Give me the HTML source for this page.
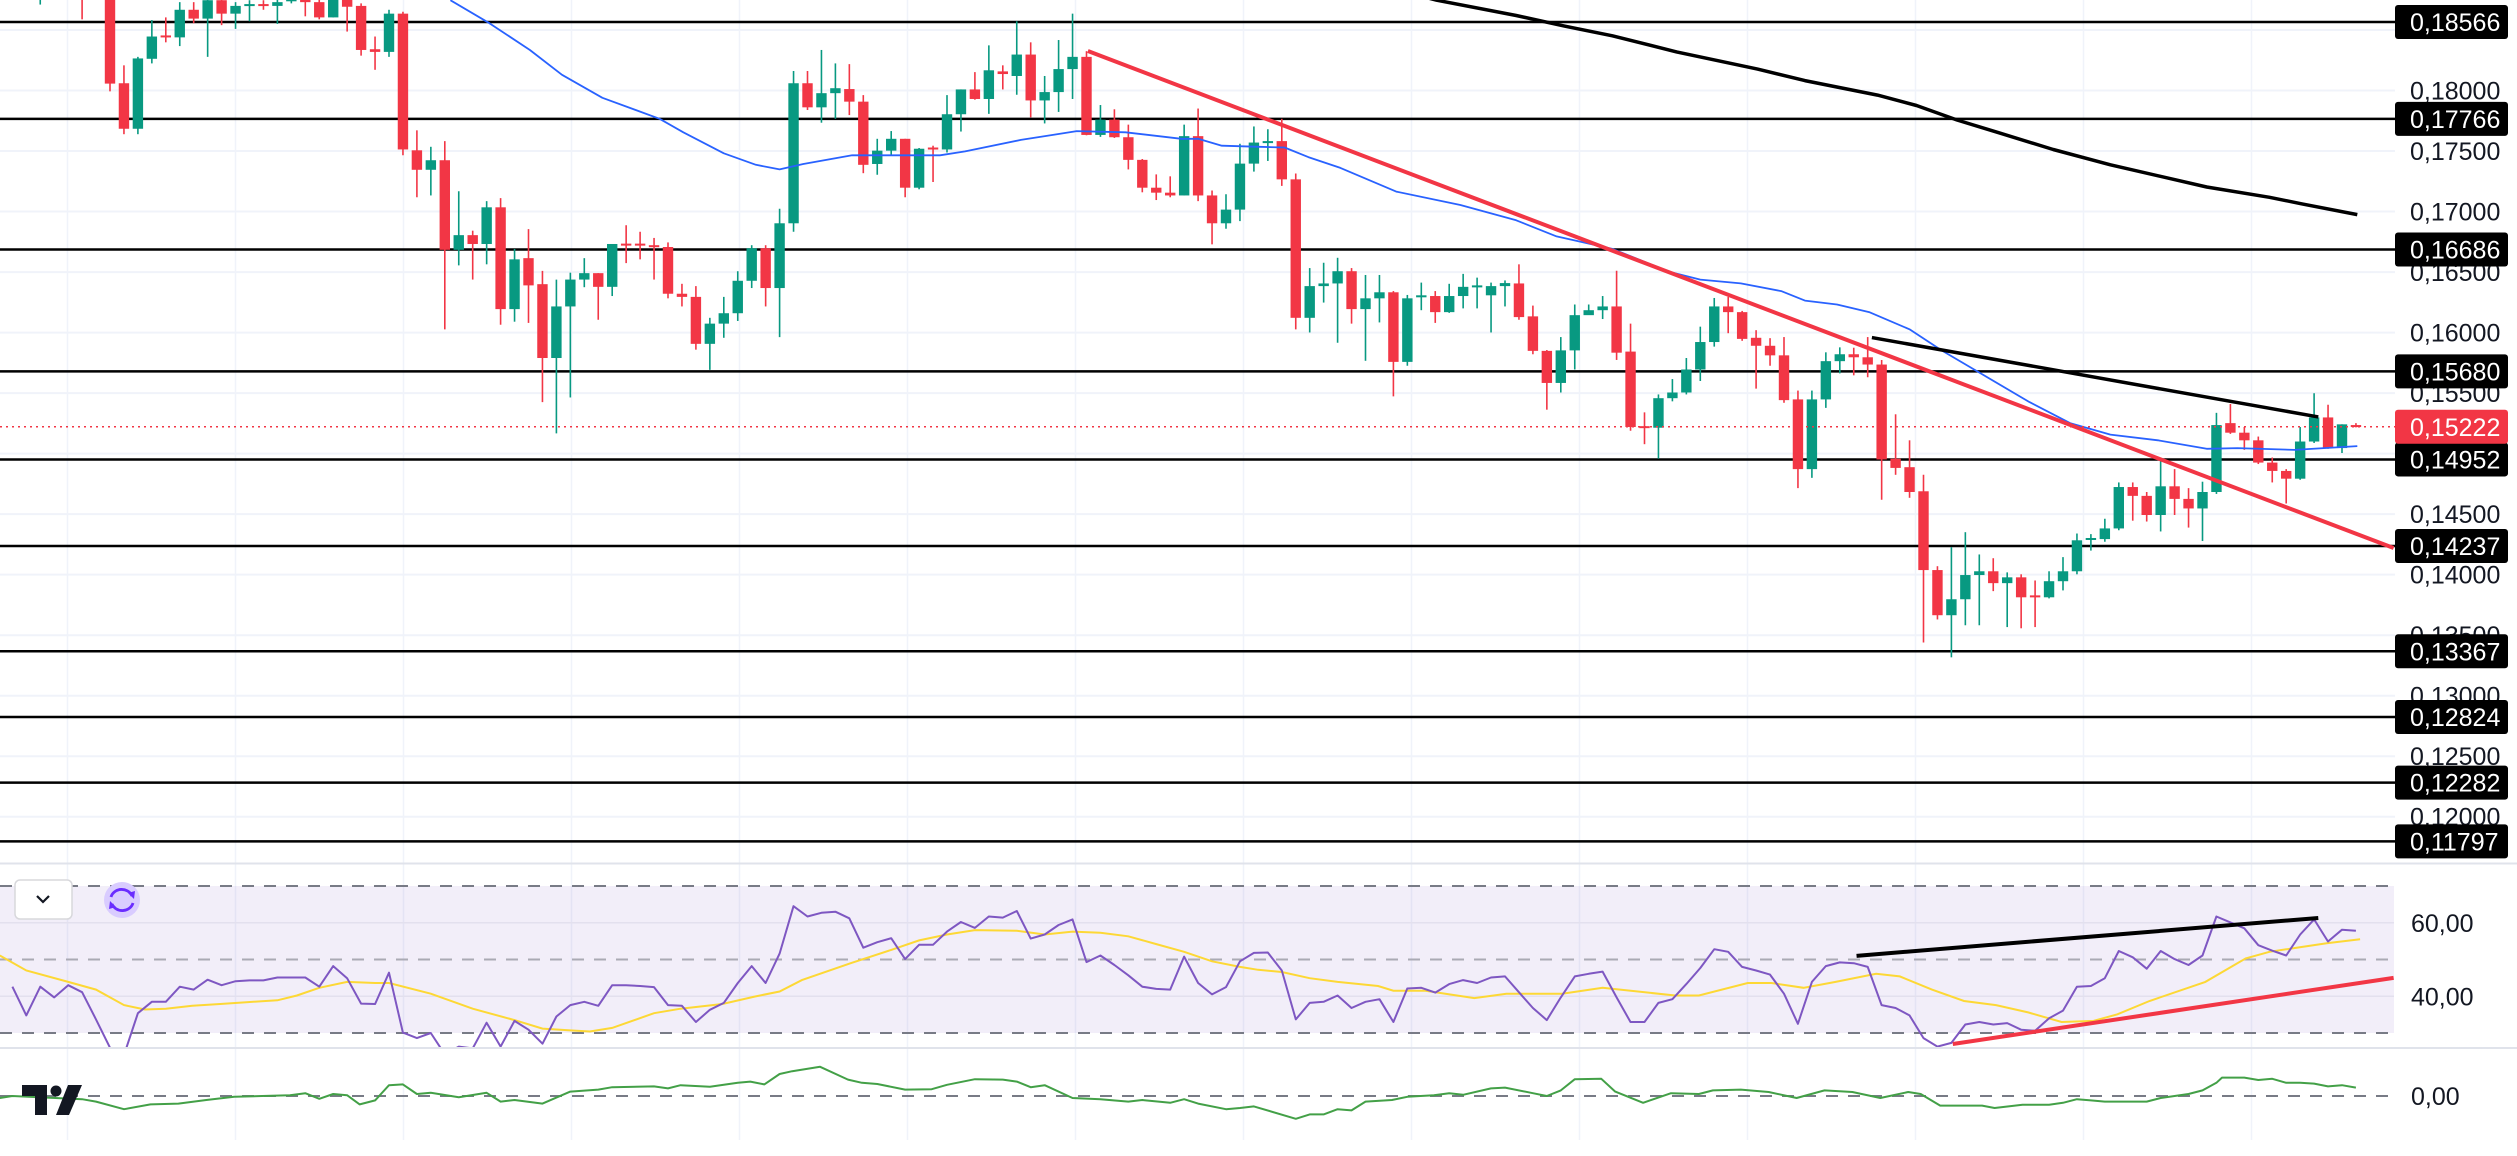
<!DOCTYPE html>
<html><head><meta charset="utf-8"><style>
html,body{margin:0;padding:0;background:#fff;}
svg{display:block;font-family:"Liberation Sans",sans-serif;}
</style></head><body>
<svg id="chart" width="2517" height="1156" viewBox="0 0 2517 1156" xmlns="http://www.w3.org/2000/svg"></svg>
<script>
// ---- data ----
const startIdx = -5;
const candleOpen = [0.1880,0.1895,0.1890,0.1900,0.1888,0.1885,0.18060,0.17684,0.18262,0.18455,0.18439,0.18667,0.18594,0.18746,0.18635,0.18708,0.18714,0.18699,0.18737,0.1876,0.1873,0.18604,0.1876,0.18699,0.18341,0.18319,0.18635,0.17506,0.17345,0.17424,0.16684,0.16805,0.16732,0.17035,0.16194,0.16615,0.16400,0.15790,0.16216,0.16438,0.16491,0.16378,0.16735,0.16735,0.16722,0.16707,0.16321,0.16295,0.15907,0.16074,0.1616,0.16428,0.16697,0.16368,0.16903,0.1806,0.17861,0.17978,0.18012,0.17908,0.17393,0.17503,0.17601,0.17197,0.17529,0.17513,0.17804,0.18009,0.1793,0.18158,0.1812,0.18297,0.17918,0.17987,0.18177,0.18278,0.17633,0.17759,0.17614,0.17427,0.17197,0.17156,0.17133,0.17623,0.17133,0.16903,0.17016,0.17396,0.1757,0.17582,0.17266,0.16122,0.16384,0.16406,0.16507,0.16194,0.16283,0.16333,0.15758,0.16302,0.16302,0.16169,0.16302,0.16378,0.16308,0.16384,0.16406,0.16134,0.15849,0.15584,0.15853,0.16144,0.16185,0.16216,0.15843,0.15227,0.15214,0.15458,0.15505,0.15695,0.15922,0.16216,0.16169,0.15957,0.15891,0.15812,0.15448,0.14872,0.15448,0.15764,0.15821,0.15796,0.15736,0.14958,0.14888,0.14689,0.14038,0.13665,0.13797,0.13997,0.14028,0.1393,0.13978,0.13829,0.13813,0.13946,0.14028,0.14288,0.14294,0.14382,0.14724,0.14651,0.14493,0.1473,0.14626,0.14547,0.14683,0.15252,0.15173,0.1511,0.14926,0.14857,0.14793,0.151,0.15299,0.15046,0.15236];
const candleHigh = [0.1890,0.1900,0.1902,0.1905,0.1900,0.1890,0.18208,0.18278,0.18582,0.18604,0.18730,0.18730,0.1880,0.1880,0.1873,0.18746,0.18746,0.1876,0.1880,0.1880,0.1876,0.1880,0.1880,0.1872,0.18446,0.18667,0.18651,0.17671,0.17535,0.17582,0.17168,0.16842,0.17086,0.17111,0.16691,0.16855,0.16510,0.16438,0.16495,0.16615,0.16491,0.16732,0.16887,0.16833,0.16782,0.16745,0.16403,0.16384,0.16122,0.16295,0.16507,0.16722,0.16722,0.17023,0.18161,0.18161,0.18335,0.18224,0.18218,0.17962,0.17601,0.17665,0.17601,0.17525,0.17544,0.17962,0.18009,0.18152,0.18373,0.18208,0.18572,0.18398,0.1812,0.18417,0.18635,0.18325,0.17880,0.17845,0.17718,0.17434,0.17307,0.17291,0.17718,0.17851,0.17174,0.17143,0.17560,0.17703,0.17680,0.17766,0.17314,0.16533,0.16577,0.16618,0.16533,0.16476,0.16476,0.16343,0.16311,0.16413,0.16343,0.16403,0.16485,0.16454,0.16413,0.16431,0.16564,0.16223,0.15856,0.15963,0.16232,0.16232,0.16302,0.16511,0.16074,0.15341,0.15489,0.15616,0.1579,0.16049,0.16286,0.16295,0.16179,0.1602,0.15954,0.15963,0.15521,0.15521,0.15837,0.15878,0.15875,0.15963,0.15774,0.15325,0.15110,0.14825,0.1407,0.14227,0.14351,0.14167,0.14136,0.14019,0.14003,0.13952,0.14028,0.14145,0.1434,0.14335,0.14462,0.14762,0.14762,0.14683,0.14952,0.14872,0.14715,0.14768,0.15337,0.1541,0.15220,0.15141,0.14968,0.14872,0.1522,0.15499,0.15404,0.15242,0.15252];
const candleLow = [0.1871,0.1885,0.1886,0.18588,0.1884,0.17993,0.17639,0.17639,0.18224,0.18398,0.18367,0.18556,0.18278,0.18540,0.18509,0.18572,0.18667,0.18550,0.1872,0.18613,0.18588,0.18604,0.18487,0.18288,0.18171,0.18278,0.17465,0.17118,0.17133,0.16027,0.16555,0.16438,0.16564,0.16065,0.16090,0.16080,0.15426,0.15167,0.15464,0.16375,0.16106,0.16302,0.16574,0.16605,0.16438,0.16283,0.16216,0.15859,0.15692,0.15957,0.16096,0.16368,0.16216,0.15963,0.16833,0.17839,0.17734,0.17766,0.17797,0.17317,0.17304,0.17465,0.17118,0.17184,0.17244,0.17488,0.17661,0.17924,0.17807,0.18009,0.17965,0.17778,0.17728,0.17823,0.1793,0.17630,0.17617,0.17608,0.17348,0.17159,0.17095,0.17118,0.17133,0.17086,0.16729,0.16858,0.16921,0.17330,0.17418,0.17212,0.16027,0.16001,0.16248,0.15916,0.16074,0.15767,0.16084,0.15473,0.15726,0.16185,0.1608,0.16163,0.162,0.162,0.16001,0.16216,0.16106,0.15821,0.15363,0.15505,0.15695,0.16147,0.16112,0.15774,0.15189,0.15078,0.14958,0.15432,0.15489,0.15600,0.15884,0.15995,0.15932,0.15537,0.15726,0.1542,0.14715,0.148,0.15378,0.15663,0.15647,0.15631,0.14619,0.14825,0.14635,0.13440,0.1363,0.13317,0.13582,0.13582,0.13864,0.13567,0.13557,0.13567,0.13804,0.13870,0.14003,0.14199,0.14272,0.14367,0.14446,0.14439,0.14357,0.14493,0.14389,0.14278,0.14667,0.15163,0.15031,0.14914,0.14762,0.14588,0.14784,0.15088,0.1504,0.15005,0.15217];
const candleClose = [0.1885,0.1890,0.1898,0.1888,0.1896,0.18057,0.17684,0.18265,0.18446,0.18439,0.18667,0.18594,0.18746,0.18635,0.18699,0.18714,0.18705,0.18730,0.1876,0.18730,0.18604,0.1876,0.18692,0.18335,0.18319,0.18635,0.17513,0.17345,0.17424,0.16684,0.16805,0.16732,0.17035,0.16194,0.16605,0.16390,0.15790,0.16216,0.16438,0.16491,0.16378,0.16732,0.16729,0.16729,0.16713,0.16321,0.16295,0.15907,0.16074,0.16160,0.16428,0.16697,0.16368,0.16903,0.18060,0.17861,0.17978,0.18019,0.17908,0.17386,0.17503,0.17601,0.17197,0.17519,0.17519,0.17804,0.18009,0.17930,0.18167,0.18136,0.18297,0.17918,0.17987,0.18177,0.18278,0.17633,0.17759,0.17614,0.17427,0.17197,0.17156,0.17133,0.17623,0.17133,0.16903,0.17016,0.17396,0.17570,0.17582,0.17266,0.16122,0.16384,0.16406,0.16507,0.16194,0.16283,0.16333,0.15758,0.16283,0.16308,0.16169,0.16302,0.16378,0.1639,0.16384,0.16409,0.16128,0.15849,0.15584,0.15853,0.16144,0.16185,0.16216,0.15834,0.15220,0.15217,0.15458,0.15505,0.15695,0.15922,0.16216,0.16169,0.15948,0.15891,0.15812,0.15442,0.14872,0.15448,0.15764,0.15821,0.15796,0.15736,0.14952,0.14882,0.14683,0.14038,0.13665,0.13797,0.13997,0.14028,0.1393,0.13978,0.13813,0.13823,0.13946,0.14028,0.14284,0.14303,0.14382,0.14724,0.14651,0.14493,0.1473,0.14626,0.14547,0.14683,0.15236,0.15173,0.1511,0.14926,0.14857,0.14793,0.151,0.15299,0.15046,0.15242,0.15222];

const ma50Idx = [24.4,27.2,30.1,32.4,35.3,39.4,41.1,44,46.3,48,49.7,53.2,59.5,61.3,65.3,67.6,69.3,72.8,76.8,78,79.7,82.4,84.2,85.9,88.2,92.2,96.8,100.8,103.7,107.7,111.8,114,116.9,119.8,121.5,123.8,126.1,129,131.3,134.1,137.6,140.5,143.4,146.8,150.3,152.5,156.6,161.1];
const ma50Val = [0.18746,0.18556,0.18335,0.1813,0.1794,0.17766,0.17655,0.17481,0.17386,0.17348,0.17393,0.17465,0.17465,0.17497,0.17592,0.17633,0.17665,0.17655,0.17601,0.17601,0.17544,0.17535,0.17529,0.1745,0.17361,0.17165,0.17054,0.16928,0.16795,0.16691,0.16501,0.16438,0.16406,0.16343,0.16264,0.16232,0.16169,0.16027,0.15853,0.15663,0.15426,0.15252,0.15157,0.1511,0.1504,0.15046,0.15031,0.15062];
const ma200Idx = [90,95.1,100.8,104.3,107.7,112.3,118.1,121.5,126.7,129.5,132.4,135.3,139.3,143.4,150.3,154.8,157.1,161.1];
const ma200Val = [0.1890,0.18746,0.18620,0.18531,0.18452,0.18319,0.18177,0.18082,0.17962,0.17876,0.17756,0.17655,0.17513,0.17386,0.17203,0.17118,0.17064,0.16975];

const levels = [0.18566,0.17766,0.16686,0.15680,0.14952,0.14237,0.13367,0.12824,0.12282,0.11797];
const levelLabels = ["0,18566","0,17766","0,16686","0,15680","0,14952","0,14237","0,13367","0,12824","0,12282","0,11797"];
const tickVals = [0.18,0.175,0.17,0.165,0.16,0.155,0.145,0.14,0.135,0.13,0.125,0.12];
const tickLabels = ["0,18000","0,17500","0,17000","0,16500","0,16000","0,15500","0,14500","0,14000","0,13500","0,13000","0,12500","0,12000"];
const lastPrice = 0.15222;
const lastLabel = "0,15222";

const trendRed = [[70.1,0.18326],[163.7,0.14220]];
const trendBlack = [[126.3,0.15959],[158.3,0.15303]];

const rsiStart = -7;
const rsiVals = [42.6,34.8,42.6,39.7,43.0,41.1,33.7,26,24,35.4,38.5,38.5,42.6,41.8,44.5,43.0,44.1,44.3,44.3,45.1,45.1,45.1,42.6,48.2,44.9,38.0,37.9,46.4,30.1,28.6,30.0,24.2,26.3,25.8,32.8,26.3,33.3,30.9,27.1,34.5,37.6,38.5,37.4,43.0,43.0,42.8,42.5,37.6,37.4,33.0,36.3,38.2,43.6,48.2,43.6,51.6,64.5,61.7,62.7,63.0,61.2,53.2,54.7,55.8,50.1,54.0,54.0,57.6,60.2,58.6,61.7,61.4,63.2,55.7,56.8,59.4,60.9,49.3,51.1,48.5,45.7,42.6,42.0,41.8,50.8,43.6,40.5,42.5,49.5,51.8,51.9,47.0,33.7,38.2,38.5,40.2,36.8,38.5,39.2,33.0,42.1,42.3,41.0,43.3,44.4,43.6,45.1,45.4,41.1,36.8,33.5,39.7,45.4,46.1,46.7,39.7,33.0,33.0,38.2,39.2,43.3,47.7,52.8,52.1,48.0,47.0,45.9,40.7,32.5,43.9,48.2,49.2,49.0,48.0,37.6,36.8,34.8,28.6,26.3,27.3,32.3,33.0,32.3,32.7,30.9,30.6,34.0,36.1,42.6,42.8,44.9,52.3,50.6,47.5,52.3,50.1,48.5,51.1,61.7,60.1,58.5,53.9,52.4,51.1,56.8,60.9,54.9,58.1,57.8];
const rsiMaIdx = [-7.9,-6,-3,-1,1,2.5,4,5.9,7.9,9.9,12,13.4,15,17,19,20,23,26,29,31,33,34.4,36,39,40.9,43.9,46.2,48,49.6,53.1,56,58,60,62,65,67,69,71,73,75,77,79,81,82.3,84,86,88,90.9,92,94.3,97.8,100.1,104.1,107,112.2,113.9,117.4,119.1,121.4,123.7,126.6,128.3,130.6,132.9,135.2,137.5,139.9,142.2,143.9,146.2,150.2,153.1,154.8,157.1,158.9,161.3];
const rsiMaVal = [51.1,47.0,43.9,41.8,37.6,36.4,36.6,37.4,37.9,38.4,38.9,40.2,42.3,43.9,43.6,43.6,40.7,36.6,33.5,31.2,30.7,30.4,31.4,35.4,36.6,37.9,39.9,41.3,44.4,49.0,52.6,55.2,56.8,58.0,57.8,56.8,57.6,57.3,56.3,54.2,52.1,49.5,48.0,47.2,46.6,44.9,43.9,42.8,41.5,41.5,39.5,40.7,40.7,42.3,40.2,40.2,43.6,43.6,42.3,43.9,46.1,45.4,41.8,38.7,37.6,35.6,33.0,33.3,35.1,38.7,43.9,50.3,52.1,53.4,54.4,55.5];
const rsiTrendBlack = [[125.2,51.0],[158.3,61.3]];
const rsiTrendRed = [[132.1,27.0],[163.7,45.0]];
const rsiTicks = [60,40];
const rsiTickLabels = ["60,00","40,00"];

const oscIdx = [-7.9,-7,-2,-1,1,2.9,4.9,6.9,8.9,10.9,12.9,14,15,16,17,17.9,19,20,21,22,23,25,27,28,29,31,33,35,36,39,40,40.9,43,45,45.9,46.9,48,48.9,50.9,52.9,53.9,55,57,58.9,60,62,64,65,66,67,69,71,73,74,76,77,78,80,81,82,85,86,87,88,89,90,91.9,93,94.9,96,97,99,100,102,103,104,105,106.9,107.9,109.9,111.9,113.9,114.9,116.9,118.9,120.9,122.9,124.9,126.9,128.9,129.8,131.2,134.2,135.1,137.1,139,140,141,142,143,146,147,149,150,151,151.4,153,154,155,156,157,158,159,160,161];
const oscVal = [-0.5,0,-0.8,-1.4,-3.3,-2.1,-1.9,-1.0,-0.2,0,0.2,0.7,-0.7,0.5,0.2,-2.1,-1.1,2.7,2.9,0.5,0.8,-0.3,0.8,-1.4,-1.0,-1.9,1.1,1.6,2.2,2.4,1.9,2.7,2.3,3.3,3.6,2.9,5.5,6.2,7.3,4.1,3.3,3.0,1.6,1.7,2.8,4.2,4.1,3.6,2.2,2.7,-0.5,-0.8,-1.4,-1.0,-1.7,-0.8,-1.9,-3.3,-3.0,-2.6,-5.7,-4.6,-4.6,-3.3,-3.6,-1.4,-1.0,-0.2,0.2,0.7,0.3,1.9,2.1,0.7,0,1.4,4.2,4.3,1.1,-1.7,0.7,0.5,1.4,1.6,1.0,-0.5,1.4,1.0,-0.5,1.0,0.5,-2.4,-2.4,-3.0,-2.2,-2.2,-1.7,-0.8,-1.1,-1.4,-1.4,-0.5,0.5,1.4,3.3,4.6,4.6,4.0,4.3,3.3,3.3,3.1,2.4,2.7,2.1];

// ---- axes ----
const X0 = 110, DX = 13.95;
const xOf = i => X0 + i * DX;
const yP = p => 22 + (0.18566 - p) * 12104;
const yR = v => 886 + (70 - v) * 3.675;
const yO = v => 1096 - v * 4;
const PW = 2395;

const NS = "http://www.w3.org/2000/svg";
const svg = document.getElementById('chart');
function mk(tag, attrs, parent) {
  const e = document.createElementNS(NS, tag);
  for (const k in attrs) e.setAttribute(k, attrs[k]);
  (parent || svg).appendChild(e);
  return e;
}
function grp(name) {
  const g = mk('g', {});
  
  
  return g;
}

const defs = mk('defs', {});
const cp1 = mk('clipPath', {id: 'cMain'}, defs); mk('rect', {x: 0, y: 0, width: PW, height: 862}, cp1);
const cp2 = mk('clipPath', {id: 'cRsi'}, defs); mk('rect', {x: 0, y: 866, width: PW, height: 181}, cp2);

const gGrid = grp('grid');
for (let k = -3; k <= 13; k++) {
  const x = 235.5 + k * 168;
  if (x < 0 || x > PW) continue;
  mk('line', {x1: x, x2: x, y1: 0, y2: 1140, stroke: '#f0f3fa', 'stroke-width': 1.5}, gGrid);
}
for (let p = 0.185; p > 0.1175; p -= 0.005) {
  const y = yP(p);
  mk('line', {x1: 0, x2: PW, y1: y, y2: y, stroke: '#f0f3fa', 'stroke-width': 2}, gGrid);
}

mk('line', {x1: 0, x2: 2517, y1: 863.5, y2: 863.5, stroke: '#e0e3eb', 'stroke-width': 2});
mk('line', {x1: 0, x2: 2517, y1: 1048, y2: 1048, stroke: '#e0e3eb', 'stroke-width': 2});

const gLev = grp('support-resistance-levels');
levels.forEach((p, i) => {
  const y = yP(p);
  const l = mk('line', {x1: 0, x2: PW, y1: y, y2: y, stroke: '#000', 'stroke-width': 2.5}, gLev);
  
  
});

const gMain = grp('candles');
gMain.setAttribute('clip-path', 'url(#cMain)');
candleOpen.forEach((o, k) => {
  const i = startIdx + k, x = xOf(i);
  const c = candleClose[k], h = candleHigh[k], lo = candleLow[k];
  const col = c >= o ? '#089981' : '#f23645';
  const g = mk('g', {}, gMain);
  
  
  mk('line', {x1: x, x2: x, y1: yP(h), y2: yP(lo), stroke: col, 'stroke-width': 1.6}, g);
  const y1 = yP(Math.max(o, c)), y2 = yP(Math.min(o, c));
  mk('rect', {x: x - 5.2, y: y1, width: 10.4, height: Math.max(2, y2 - y1), fill: col}, g);
});

function poly(idxArr, valArr, yf, attrs, parent, name) {
  const pts = idxArr.map((i, k) => xOf(i).toFixed(1) + ',' + yf(valArr[k]).toFixed(1)).join(' ');
  const e = mk('polyline', Object.assign({points: pts, fill: 'none'}, attrs), parent);
  
  
  return e;
}
const gMa = grp('moving-averages');
gMa.setAttribute('clip-path', 'url(#cMain)');
poly(ma50Idx, ma50Val, yP, {stroke: '#2962ff', 'stroke-width': 1.8, 'stroke-linejoin': 'round'}, gMa, 'ma-50-line');
poly(ma200Idx, ma200Val, yP, {stroke: '#000', 'stroke-width': 3.5, 'stroke-linejoin': 'round'}, gMa, 'ma-200-line');

const gTr = grp('trendlines');
let t = mk('line', {x1: xOf(trendRed[0][0]), y1: yP(trendRed[0][1]), x2: xOf(trendRed[1][0]), y2: yP(trendRed[1][1]), stroke: '#f23645', 'stroke-width': 4}, gTr);
 
t = mk('line', {x1: xOf(trendBlack[0][0]), y1: yP(trendBlack[0][1]), x2: xOf(trendBlack[1][0]), y2: yP(trendBlack[1][1]), stroke: '#000', 'stroke-width': 3.5}, gTr);
 

const lp = mk('line', {x1: 0, x2: PW, y1: yP(lastPrice), y2: yP(lastPrice), stroke: '#f23645', 'stroke-width': 1.5, 'stroke-dasharray': '2 4'});
 

const gAx = grp('price-axis');
tickVals.forEach((p, k) => {
  const tx = mk('text', {x: 2410, y: yP(p) + 9, 'font-size': 25, fill: '#131722'}, gAx);
  tx.textContent = tickLabels[k];
  
  
});
function box(p, label, bg, name) {
  const y = yP(p);
  const g = mk('g', {}, gAx);
  
  
  mk('rect', {x: 2395, y: y - 17, width: 113, height: 34, rx: 3, fill: bg}, g);
  const tx = mk('text', {x: 2410, y: y + 9, 'font-size': 25, fill: '#fff'}, g);
  tx.textContent = label;
}
levels.forEach((p, k) => box(p, levelLabels[k], '#000', 'level-price-label'));
box(lastPrice, lastLabel, '#f23645', 'last-price-label');

const gR = grp('rsi-pane');
mk('rect', {x: 0, y: yR(70), width: 2394, height: yR(30) - yR(70), fill: 'rgba(126,87,194,0.1)'}, gR);
[60, 40].forEach(v => mk('line', {x1: 0, x2: 2394, y1: yR(v), y2: yR(v), stroke: '#e3e0ee', 'stroke-width': 1.5}, gR));
mk('line', {x1: 0, x2: 2394, y1: yR(70), y2: yR(70), stroke: '#787b86', 'stroke-width': 2, 'stroke-dasharray': '12 10'}, gR);
mk('line', {x1: 0, x2: 2394, y1: yR(50), y2: yR(50), stroke: '#aaaab4', 'stroke-width': 2, 'stroke-dasharray': '12 10'}, gR);
mk('line', {x1: 0, x2: 2394, y1: yR(30), y2: yR(30), stroke: '#787b86', 'stroke-width': 2, 'stroke-dasharray': '12 10'}, gR);
const gRl = mk('g', {'clip-path': 'url(#cRsi)'}, gR);
const rsiIdx = rsiVals.map((v, k) => rsiStart + k);
poly(rsiMaIdx, rsiMaVal, yR, {stroke: '#fdd835', 'stroke-width': 2}, gRl, 'rsi-ma-line');
poly(rsiIdx, rsiVals, yR, {stroke: '#7e57c2', 'stroke-width': 2, 'stroke-linejoin': 'round'}, gRl, 'rsi-line');
t = mk('line', {x1: xOf(rsiTrendBlack[0][0]), y1: yR(rsiTrendBlack[0][1]), x2: xOf(rsiTrendBlack[1][0]), y2: yR(rsiTrendBlack[1][1]), stroke: '#000', 'stroke-width': 4}, gRl);
 
t = mk('line', {x1: xOf(rsiTrendRed[0][0]), y1: yR(rsiTrendRed[0][1]), x2: xOf(rsiTrendRed[1][0]), y2: yR(rsiTrendRed[1][1]), stroke: '#f23645', 'stroke-width': 4}, gRl);
 
rsiTicks.forEach((v, k) => {
  const tx = mk('text', {x: 2411, y: yR(v) + 9, 'font-size': 25, fill: '#131722'}, gR);
  tx.textContent = rsiTickLabels[k];
  
  
});

const gO = grp('oscillator-pane');
mk('line', {x1: 0, x2: 2394, y1: yO(0), y2: yO(0), stroke: '#787b86', 'stroke-width': 2, 'stroke-dasharray': '12 10'}, gO);
poly(oscIdx, oscVal, yO, {stroke: '#43a047', 'stroke-width': 2, 'stroke-linejoin': 'round'}, gO, 'oscillator-line');
const ot = mk('text', {x: 2411, y: yO(0) + 9, 'font-size': 25, fill: '#131722'}, gO);
ot.textContent = '0,00';



const gB = mk('g', {});


mk('rect', {x: 15, y: 880, width: 57, height: 39, rx: 5, fill: '#fff', stroke: '#d8d8dc', 'stroke-width': 1.5}, gB);
mk('polyline', {points: '37,896 43,902 49,896', fill: 'none', stroke: '#131722', 'stroke-width': 2.2}, gB);
const gC = mk('g', {});


mk('circle', {cx: 122, cy: 900, r: 18, fill: '#d9ccff'}, gC);
mk('path', {d: 'M111,897 A11,10 0 0 1 132,896 M133,903 A11,10 0 0 1 112,904', fill: 'none', stroke: '#6a2cff', 'stroke-width': 2.8}, gC);
mk('polygon', {points: '128,893 135,891 134,899', fill: '#6a2cff'}, gC);
mk('polygon', {points: '116,907 109,909 110,901', fill: '#6a2cff'}, gC);
const gL = mk('g', {});


mk('path', {d: 'M22,1085 H47 V1115 H35 V1096 H22 Z', fill: '#131722'}, gL);
mk('circle', {cx: 56, cy: 1091, r: 5.5, fill: '#131722'}, gL);
mk('path', {d: 'M68,1085 H82 L69,1115 H56 Z', fill: '#131722'}, gL);
</script>
</body></html>
